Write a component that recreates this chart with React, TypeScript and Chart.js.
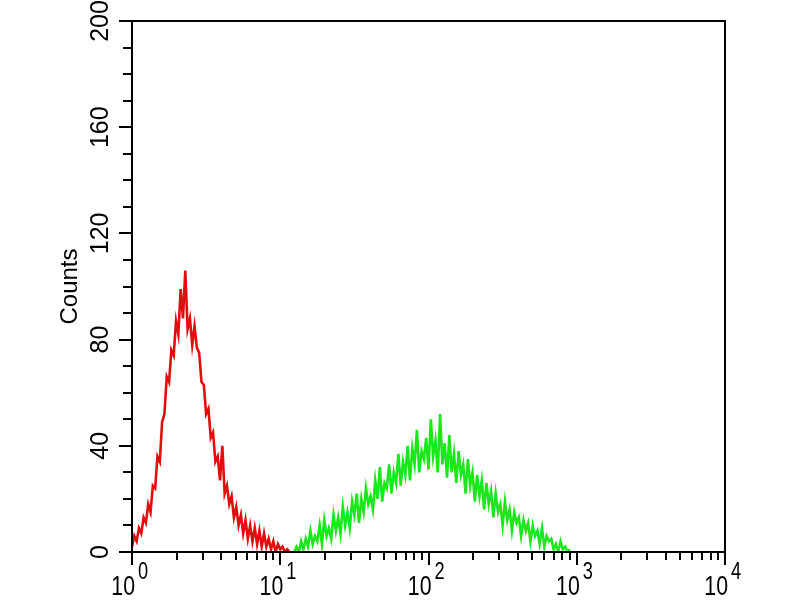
import React, { useEffect, useRef } from "react";
import { Chart, registerables } from "chart.js";

Chart.register(...registerables);

// Histogram channels: 64 channels per decade on the log intensity axis
const channelsPerDecade = 64;

// Red population (negative control), starting at channel 0 (10^0)
const redStartChannel = 0;
const redCounts = [
  2, 6, 4, 9, 7, 13, 11, 18, 15, 25,
  24, 36, 34, 49, 52, 66, 64, 76, 74, 87,
  82, 99, 88, 106, 84, 88, 78, 85, 77, 75,
  64, 63, 52, 54, 43, 45, 34, 36, 27, 40,
  22, 25, 18, 21, 13, 17, 10, 14, 7, 12,
  5, 10, 4, 9, 3, 8, 2, 7, 2, 5,
  1, 4, 0, 3, 1, 2, 0, 1, 0,
];

// Green population (stained sample), starting at channel 70 (~10^1.1)
const greenStartChannel = 70;
const greenCounts = [
  0, 2, 0, 4, 1, 5, 2, 8, 3, 6,
  4, 10, 3, 12, 6, 9, 5, 14, 8, 13,
  7, 17, 10, 15, 9, 19, 14, 22, 11, 20,
  15, 24, 18, 21, 16, 27, 20, 32, 19, 26,
  24, 33, 22, 30, 26, 37, 25, 34, 29, 40,
  27, 39, 33, 46, 30, 38, 35, 43, 31, 50,
  36, 42, 30, 52, 33, 41, 28, 44, 30, 37,
  26, 38, 29, 33, 22, 35, 25, 30, 19, 29,
  21, 27, 16, 26, 18, 23, 13, 22, 15, 18,
  10, 19, 12, 16, 8, 15, 11, 13, 6, 12,
  8, 11, 4, 10, 6, 8, 3, 9, 2, 6,
  4, 5, 1, 3, 0, 4, 1, 2, 0, 1,
];

const yTickLabels = [0, 40, 80, 120, 160, 200];
const yMinorStep = 10;
const yMin = 0;
const yMax = 200;
const xDecadeExponents = [0, 1, 2, 3, 4];
const xMinorMultipliers = [1, 2, 3, 4, 5, 6, 7, 8, 9];
const yAxisTitle = "Counts";

const FONT = '"Liberation Sans", Arial, Helvetica, sans-serif';

function toPoints(start: number, counts: number[]) {
  return counts.map((c, i) => ({ x: Math.pow(10, (start + i) / channelsPerDecade), y: c }));
}

const framePlugin = {
  id: "frameAndTicks",
  afterDraw(chart: any) {
    const { ctx, chartArea, scales } = chart;
    const { left, right, top, bottom } = chartArea;
    const x = scales.x;
    const y = scales.y;
    ctx.save();
    ctx.strokeStyle = "#000";
    ctx.lineWidth = 2;
    ctx.strokeRect(left, top, right - left, bottom - top);

    // y tick marks
    for (const t of y.ticks) {
      const py = Math.round(y.getPixelForValue(t.value));
      const major = yTickLabels.includes(t.value);
      const len = major ? 13 : 9;
      ctx.beginPath();
      ctx.moveTo(left - len, py);
      ctx.lineTo(left, py);
      ctx.stroke();
    }

    // x tick marks
    const lastExp = xDecadeExponents[xDecadeExponents.length - 1];
    for (const e of xDecadeExponents) {
      const mults = e === lastExp ? [1] : xMinorMultipliers;
      for (const m of mults) {
        const v = m * Math.pow(10, e);
        const px = Math.round(x.getPixelForValue(v));
        const len = m === 1 ? 13 : 8;
        ctx.beginPath();
        ctx.moveTo(px, bottom);
        ctx.lineTo(px, bottom + len);
        ctx.stroke();
      }
    }

    // x labels: "10" with raised exponent (condensed like the reference)
    ctx.fillStyle = "#000";
    ctx.textBaseline = "alphabetic";
    for (const e of xDecadeExponents) {
      const px = x.getPixelForValue(Math.pow(10, e));
      ctx.save();
      ctx.translate(px + 3, 595);
      ctx.scale(0.76, 1);
      ctx.font = `28px ${FONT}`;
      ctx.textAlign = "right";
      ctx.fillText("10", 0, 0);
      ctx.restore();
      ctx.save();
      ctx.translate(px + 6, 579);
      ctx.scale(0.76, 1);
      ctx.font = `24px ${FONT}`;
      ctx.textAlign = "left";
      ctx.fillText(String(e), 0, 0);
      ctx.restore();
    }
    ctx.restore();
  },
};

export default function App() {
  const ref = useRef<HTMLCanvasElement | null>(null);

  useEffect(() => {
    document.body.style.margin = "0";
    const canvas = ref.current;
    if (!canvas) return;
    const chart = new Chart(canvas, {
      type: "line",
      data: {
        datasets: [
          {
            label: "Control",
            data: toPoints(redStartChannel, redCounts),
            borderColor: "rgb(226, 14, 14)",
            borderWidth: 2.6,
            pointRadius: 0,
            tension: 0,
            fill: false,
          },
          {
            label: "Sample",
            data: toPoints(greenStartChannel, greenCounts),
            borderColor: "rgb(28, 230, 28)",
            borderWidth: 2.6,
            pointRadius: 0,
            tension: 0,
            fill: false,
          },
        ],
      },
      options: {
        animation: false,
        responsive: false,
        maintainAspectRatio: false,
        layout: { padding: { top: 21, right: 75, left: 0, bottom: 0 } },
        plugins: {
          legend: { display: false },
          tooltip: { enabled: false },
        },
        scales: {
          x: {
            type: "logarithmic",
            min: 1,
            max: 10000,
            grid: { display: false },
            border: { display: false },
            ticks: { display: false },
            afterFit: (s: any) => {
              s.height = 48;
            },
          },
          y: {
            type: "linear",
            min: yMin,
            max: yMax,
            grid: {
              display: true,
              drawOnChartArea: false,
              drawTicks: true,
              tickLength: 10,
              color: "rgba(0,0,0,0)",
            },
            border: { display: false },
            ticks: {
              stepSize: yMinorStep,
              autoSkip: false,
              minRotation: 90,
              maxRotation: 90,
              crossAlign: "center",
              padding: 0,
              color: "#000",
              font: { family: FONT, size: 25 },
              callback: (v: any) => (yTickLabels.includes(Number(v)) ? String(v) : ""),
            },
            title: {
              display: true,
              text: yAxisTitle,
              color: "#000",
              font: { family: FONT, size: 24, lineHeight: 1.2 },
              padding: { top: 56, bottom: 0 },
            },
            afterFit: (s: any) => {
              s.width = 132;
            },
          },
        },
      },
      plugins: [framePlugin],
    });
    return () => chart.destroy();
  }, []);

  return (
    <div style={{ width: 800, height: 600, background: "#fff" }}>
      <canvas ref={ref} width={800} height={600} style={{ display: "block" }} />
    </div>
  );
}
